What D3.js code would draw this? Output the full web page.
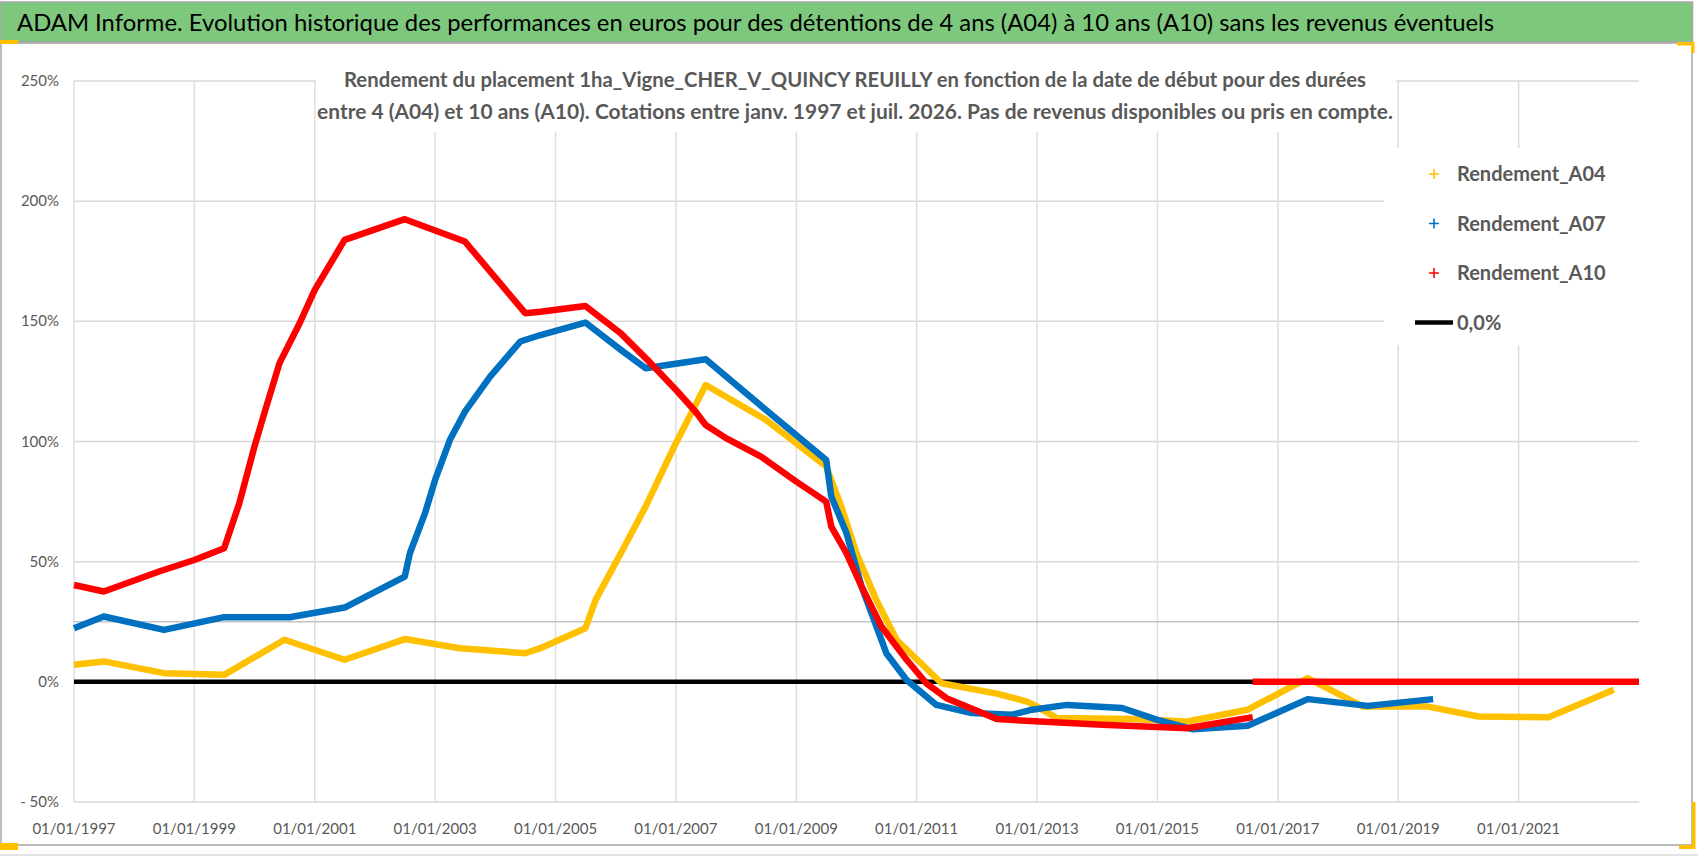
<!DOCTYPE html>
<html>
<head>
<meta charset="utf-8">
<script src="https://cdnjs.cloudflare.com/ajax/libs/d3/7.8.5/d3.min.js"></script>
<style>
  body { margin: 0; background: #fff; }
  svg { display: block; font-family: Lato, "Open Sans", sans-serif; }
</style>
</head>
<body>
<svg id="chart" width="1698" height="856"></svg>
<script>
// values (percent)
var a04Dates = ["1997-01","1997-07","1998-07","1999-07","2000-07","2001-07","2002-07","2003-06","2004-07","2004-10",
  "2005-07","2005-09","2006-02","2006-07","2007-01","2007-07","2008-07","2009-07","2009-10","2010-01",
  "2010-05","2010-09","2011-06","2012-05","2012-11","2013-01","2013-05","2014-08","2015-07","2016-07",
  "2017-07","2018-06","2019-07","2020-05","2021-07","2022-08"];
var a04Values = [7.1, 8.5, 3.6, 2.9, 17.5, 9.2, 17.8, 14, 11.9, 14,
  22.3, 34.1, 53.5, 72.9, 99.3, 123.5, 109, 89.6, 72.9, 53.5,
  34.1, 17.5, -0.6, -4.9, -8.2, -10.3, -15.1, -15.5, -16.5, -11.6,
  1.5, -10.3, -10.3, -14.4, -14.7, -3.3];

var a07Dates = ["1997-01","1997-07","1998-07","1999-07","2000-08","2001-07","2002-07","2002-08","2002-11","2003-01",
  "2003-04","2003-07","2003-12","2004-06","2004-10","2005-07","2006-02","2006-07","2007-07","2008-07",
  "2009-07","2009-08","2009-11","2010-02","2010-07","2010-11","2011-05","2011-12","2012-08","2012-12",
  "2013-07","2014-06","2015-01","2015-08","2016-07","2017-07","2018-07","2019-08"];
var a07Values = [22.3, 27.2, 21.6, 26.9, 26.9, 30.9, 43.8, 53.5, 70.2, 84,
  100.7, 112.4, 127, 141.6, 144.3, 149.5, 138.1, 130.5, 134.2, 113.1,
  92.3, 77.1, 61.9, 39.6, 11.9, 0.8, -9.6, -13, -13.7, -11.6,
  -9.6, -10.9, -15.8, -19.7, -18.3, -7.2, -10, -7.2];

// null = no quotation: A10 then shows 0 until the end of the axis
var a10Dates = ["1997-01","1997-07","1998-06","1999-01","1999-07","1999-10","2000-01","2000-03","2000-06","2000-10",
  "2001-01","2001-07","2002-07","2003-07","2004-07","2004-10","2005-07","2006-02","2006-08","2007-01",
  "2007-05","2007-07","2007-11","2008-06","2009-01","2009-07","2009-08","2009-11","2010-02","2010-06",
  "2010-11","2011-03","2011-07","2012-05","2014-02","2015-07","2016-08","2016-08","2016-08","2023-01"];
var a10Values = [40.3, 37.6, 45.9, 50.7, 55.6, 74.3, 97.9, 111.8, 132.6, 149.2,
  163.1, 183.9, 192.5, 183.2, 153.4, 154, 156.4, 145, 132.6, 121.5,
  112.4, 106.9, 101.4, 93.7, 83.3, 75, 64.6, 53.5, 39.6, 23,
  9.2, -0.6, -6.8, -15.5, -17.9, -19.3, -14.7, null, 0, 0];

var zeroDates = ["1997-01", "2023-01"];
var zeroValues = [0, 0];

var seriesNames = ["Rendement_A04", "Rendement_A07", "Rendement_A10", "0,0%"];
var seriesColors = ["#ffc000", "#0070c0", "#ff0000", "#000000"];

var yTicks = [-50, 0, 50, 100, 150, 200, 250];
var yExtraLine = [25];
var xTickLabels = ["01/01/1997","01/01/1999","01/01/2001","01/01/2003","01/01/2005","01/01/2007","01/01/2009",
  "01/01/2011","01/01/2013","01/01/2015","01/01/2017","01/01/2019","01/01/2021"];
var xDomain = ["1997-01", "2023-01"];

var titleText = "ADAM Informe. Evolution historique des performances en euros pour des détentions de 4 ans (A04) à 10 ans (A10) sans les revenus éventuels";
var subTitle = ["Rendement du placement 1ha_Vigne_CHER_V_QUINCY REUILLY en fonction de la date de début pour des durées",
  "entre 4 (A04) et 10 ans (A10). Cotations entre janv. 1997 et juil. 2026. Pas de revenus disponibles ou pris en compte."];

var parseM = d3.timeParse("%Y-%m");
var parseTick = d3.timeParse("%d/%m/%Y");

var svg = d3.select("#chart");
var plotLeft = 74, plotRight = 1639, plotTop = 81, plotBottom = 802;

var x = d3.scaleTime().domain(xDomain.map(parseM)).range([plotLeft, plotRight]);
var y = d3.scaleLinear().domain([-50, 250]).range([plotBottom, plotTop]);

// frames
svg.append("rect").attr("x", 0).attr("y", 0).attr("width", 1698).attr("height", 856).attr("fill", "#fff");
svg.append("rect").attr("x", 1).attr("y", 43).attr("width", 1691).attr("height", 802)
  .attr("fill", "#fff").attr("stroke", "#a6a6a6").attr("stroke-width", 1.5);
svg.append("line").attr("x1", 0).attr("x2", 1698).attr("y1", 855).attr("y2", 855).attr("stroke", "#c8c8c8");
svg.append("rect").attr("x", 0.5).attr("y", 2).attr("width", 1692).attr("height", 40)
  .attr("fill", "#7ec87e").attr("stroke", "#a6a6a6").attr("stroke-width", 1.5);
svg.append("text").attr("x", 17).attr("y", 30.5)
  .attr("font-size", 23).attr("fill", "#000")
  .attr("textLength", 1477).attr("lengthAdjust", "spacingAndGlyphs")
  .text(titleText);

// selection handles
var handles = [[0, 40, 18, 4], [1677, 42, 17, 3.5], [1691, 42, 3.5, 11],
  [1692, 802, 3.5, 47], [1679, 845, 16, 4], [0, 843, 18, 7]];
svg.selectAll(".handle").data(handles).enter().append("rect")
  .attr("x", function(d) { return d[0]; }).attr("y", function(d) { return d[1]; })
  .attr("width", function(d) { return d[2]; }).attr("height", function(d) { return d[3]; })
  .attr("fill", "#ffc000");

// grid
var g = svg.append("g");
g.selectAll(".hgrid").data(yTicks).enter().append("line")
  .attr("x1", plotLeft).attr("x2", plotRight)
  .attr("y1", function(d) { return y(d); }).attr("y2", function(d) { return y(d); })
  .attr("stroke", "#d9d9d9").attr("stroke-width", 1.5);
g.selectAll(".vgrid").data(xTickLabels).enter().append("line")
  .attr("x1", function(d) { return x(parseTick(d)); }).attr("x2", function(d) { return x(parseTick(d)); })
  .attr("y1", plotTop).attr("y2", plotBottom)
  .attr("stroke", "#dedede").attr("stroke-width", 1.5);
g.selectAll(".xline").data(yExtraLine).enter().append("line")
  .attr("x1", plotLeft).attr("x2", plotRight)
  .attr("y1", function(d) { return y(d); }).attr("y2", function(d) { return y(d); })
  .attr("stroke", "#c4c4c4").attr("stroke-width", 1.5);

// axis labels
svg.selectAll(".ylab").data(yTicks).enter().append("text")
  .attr("x", 59).attr("y", function(d) { return y(d) + 5; })
  .attr("text-anchor", "end").attr("font-size", 15).attr("fill", "#595959")
  .text(function(d) { return d < 0 ? "- " + Math.abs(d) + "%" : d + "%"; });
svg.selectAll(".xlab").data(xTickLabels).enter().append("text")
  .attr("x", function(d) { return x(parseTick(d)); }).attr("y", 833.5)
  .attr("text-anchor", "middle").attr("font-size", 15).attr("fill", "#595959")
  .text(function(d) { return d; });

// subtitle
svg.append("rect").attr("x", 316).attr("y", 62).attr("width", 1080).attr("height", 70).attr("fill", "#fff");
svg.selectAll(".sub").data(subTitle).enter().append("text")
  .attr("x", 855).attr("y", function(d, i) { return 87 + i * 32; })
  .attr("text-anchor", "middle").attr("font-size", 21).attr("font-weight", "bold").attr("fill", "#595959")
  .attr("textLength", function(d, i) { return i === 0 ? 1022 : 1076; })
  .attr("lengthAdjust", "spacingAndGlyphs")
  .text(function(d) { return d; });

// series
function toPoints(dates, values) {
  return dates.map(function(d, i) { return { date: parseM(d), value: values[i] }; });
}
var lineGen = d3.line()
  .defined(function(d) { return d.value !== null; })
  .x(function(d) { return x(d.date); })
  .y(function(d) { return y(d.value); });

var series = [
  { pts: toPoints(zeroDates, zeroValues), color: seriesColors[3], w: 4.5 },
  { pts: toPoints(a04Dates, a04Values), color: seriesColors[0], w: 6.5 },
  { pts: toPoints(a07Dates, a07Values), color: seriesColors[1], w: 6.5 },
  { pts: toPoints(a10Dates, a10Values), color: seriesColors[2], w: 6.5 }
];
svg.selectAll(".series").data(series).enter().append("path")
  .attr("d", function(d) { return lineGen(d.pts); })
  .attr("fill", "none")
  .attr("stroke", function(d) { return d.color; })
  .attr("stroke-width", function(d) { return d.w; })
  .attr("stroke-linejoin", "round");

// legend
svg.append("rect").attr("x", 1384).attr("y", 148).attr("width", 256).attr("height", 197).attr("fill", "#fff");
var leg = svg.selectAll(".leg").data(seriesNames).enter().append("g")
  .attr("transform", function(d, i) { return "translate(0," + (174 + i * 49.5) + ")"; });
leg.filter(function(d, i) { return i < 3; }).append("path")
  .attr("d", "M1429,0H1439M1434,-5V5")
  .attr("stroke", function(d, i) { return seriesColors[i]; }).attr("stroke-width", 1.6);
leg.filter(function(d, i) { return i === 3; }).append("line")
  .attr("x1", 1415).attr("x2", 1453).attr("y1", 0).attr("y2", 0)
  .attr("stroke", "#000").attr("stroke-width", 4.5);
leg.append("text").attr("x", 1457).attr("y", 7)
  .attr("font-size", 20).attr("font-weight", "bold").attr("fill", "#595959")
  .text(function(d) { return d; });
</script>
</body>
</html>
